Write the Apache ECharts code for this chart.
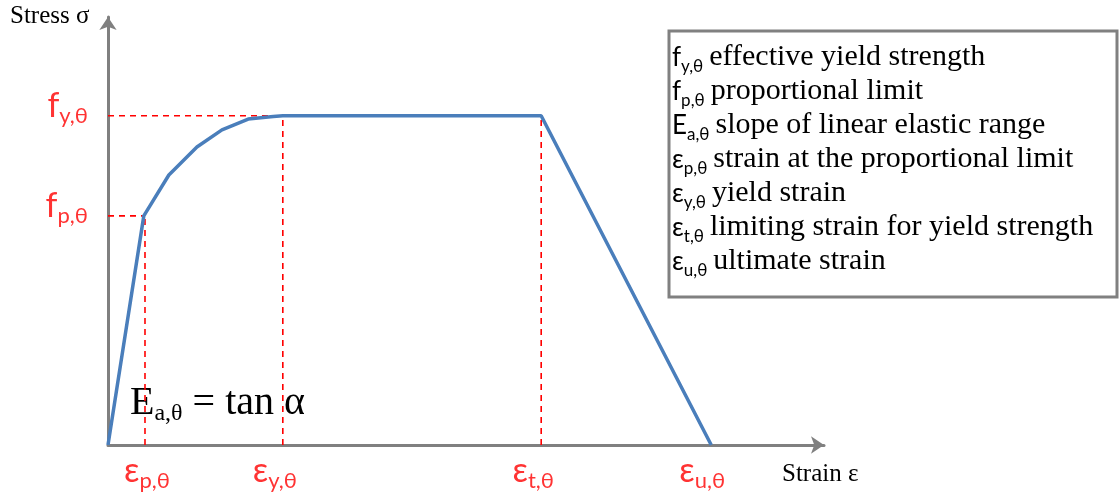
<!DOCTYPE html>
<html>
<head>
<meta charset="utf-8">
<script src="https://cdn.jsdelivr.net/npm/echarts@6/dist/echarts.min.js"></script>
<style>html,body{margin:0;padding:0;background:#fff;}#c{width:1119px;height:493px;}</style>
</head>
<body>
<div id="c"></div>
<script>
// ---- data (arbitrary strain / stress units) ----
const curveStrain = [0, 0.6, 1.02, 1.49, 1.91, 2.35, 2.77, 2.93, 7.26, 10.11];
const curveStress = [0, 0.696, 0.820, 0.905, 0.957, 0.990, 0.998, 1.0, 1.0, 0];
const strainKeys = ['p,θ', 'y,θ', 't,θ', 'u,θ'];
const strainKeyValues = [0.62, 2.93, 7.26, 10.11];
const stressKeys = ['p,θ', 'y,θ'];
const stressKeyValues = [0.696, 1.0];
const legendSymbols = ['f', 'f', 'E', 'ε', 'ε', 'ε', 'ε'];
const legendSubs = ['y,θ', 'p,θ', 'a,θ', 'p,θ', 'y,θ', 't,θ', 'u,θ'];
const legendTexts = ['effective yield strength', 'proportional limit', 'slope of linear elastic range',
  'strain at the proportional limit', 'yield strain', 'limiting strain for yield strength', 'ultimate strain'];
const xMax = 12, yMax = 1.3;

// styling only
const strainLabelShift = [2, -8, -8, -9];
const SANS = 'Lato, "Liberation Sans", sans-serif';
const SERIF = '"Liberation Serif", "DejaVu Serif", serif';
const RED = '#ff0000', BLUE = '#4a7ebb', GRAY = '#808080';

const chart = echarts.init(document.getElementById('c'), null, {renderer: 'canvas'});

const curveData = curveStrain.map((x, i) => [x, curveStress[i]]);
const epsP = strainKeyValues[0], epsY = strainKeyValues[1], epsT = strainKeyValues[2];
const fP = stressKeyValues[0], fY = stressKeyValues[1];
const guides = [
  [[0, fY], [epsY, fY]],
  [[0, fP], [curveStrain[1], fP]],
  [[epsP, 0], [epsP, fP]],
  [[epsY, 0], [epsY, fY]],
  [[epsT, 0], [epsT, fY]]
];

const redRich = {
  m: {fontFamily: SANS, fontSize: 34, color: RED, lineHeight: 40},
  s: {fontFamily: SANS, fontSize: 22, color: RED, lineHeight: 22, padding: [20, 0, 0, 0]}
};

const series = [];
guides.forEach(g => {
  series.push({type: 'line', data: g, symbol: 'none', silent: true,
    lineStyle: {color: RED, width: 1.6, type: [6, 5]}, z: 2});
});
series.push({
  type: 'line', data: curveData, symbol: 'none', silent: true,
  lineStyle: {color: BLUE, width: 3.5}, z: 3
});
series.push({
  type: 'scatter', symbolSize: 0, silent: true, z: 4,
  data: strainKeyValues.map((v, i) => ({value: [v, 0], label: {offset: [strainLabelShift[i], 0]}})),
  label: {
    show: true, position: 'bottom', distance: 6,
    formatter: p => '{m|ε}{s|' + strainKeys[p.dataIndex] + '}', rich: redRich
  }
});
series.push({
  type: 'scatter', symbolSize: 0, silent: true, z: 4,
  data: stressKeyValues.map(v => [0, v]),
  label: {
    show: true, position: 'left', distance: 20, offset: [0, -10],
    formatter: p => '{m|f}{s|' + stressKeys[p.dataIndex] + '}', rich: redRich
  }
});

const legendStr = legendTexts.map((t, i) =>
  '{m|' + legendSymbols[i] + '}{s|' + legendSubs[i] + '}{t|' + t + '}').join('\n');

chart.setOption({
  animation: false,
  backgroundColor: '#fff',
  grid: {left: 108, top: 17, width: 716, height: 428},
  xAxis: {
    type: 'value', min: 0, max: xMax,
    axisLine: {show: true, symbol: ['none', 'arrow'], symbolSize: [13, 13],
      lineStyle: {color: GRAY, width: 3}},
    axisTick: {show: false}, axisLabel: {show: false}, splitLine: {show: false}
  },
  yAxis: {
    type: 'value', min: 0, max: yMax,
    axisLine: {show: true, symbol: ['none', 'arrow'], symbolSize: [13, 13],
      lineStyle: {color: GRAY, width: 3}},
    axisTick: {show: false}, axisLabel: {show: false}, splitLine: {show: false}
  },
  series: series,
  graphic: [
    {type: 'text', left: 10, top: 4, style: {text: 'Stress σ', font: '25px ' + SERIF, fill: '#000'}},
    {type: 'text', left: 782, top: 462, style: {text: 'Strain ε', font: '25px ' + SERIF, fill: '#000'}},
    {type: 'text', left: 130, top: 380, style: {
      text: '{e|E}{s|a,θ}{t| = tan α}', rich: {
        e: {fontFamily: SERIF, fontSize: 40, lineHeight: 44, fill: '#000'},
        s: {fontFamily: SERIF, fontSize: 24, lineHeight: 24, padding: [22, 0, 0, 0], fill: '#000'},
        t: {fontFamily: SERIF, fontSize: 40, lineHeight: 44, fill: '#000'}
      }}},
    {type: 'rect', shape: {x: 669, y: 31, width: 448, height: 266},
      style: {fill: '#fff', stroke: GRAY, lineWidth: 3}, z: 10},
    {type: 'text', left: 672, top: 40, z: 11, style: {
      text: legendStr, rich: {
        m: {fontFamily: SANS, fontSize: 26, lineHeight: 34, fill: '#000'},
        s: {fontFamily: SANS, fontSize: 17, lineHeight: 17, padding: [18, 0, 0, 0], fill: '#000'},
        t: {fontFamily: SERIF, fontSize: 30, lineHeight: 34, padding: [0, 0, 0, 6], fill: '#000'}
      }}}
  ]
});
</script>
</body>
</html>
